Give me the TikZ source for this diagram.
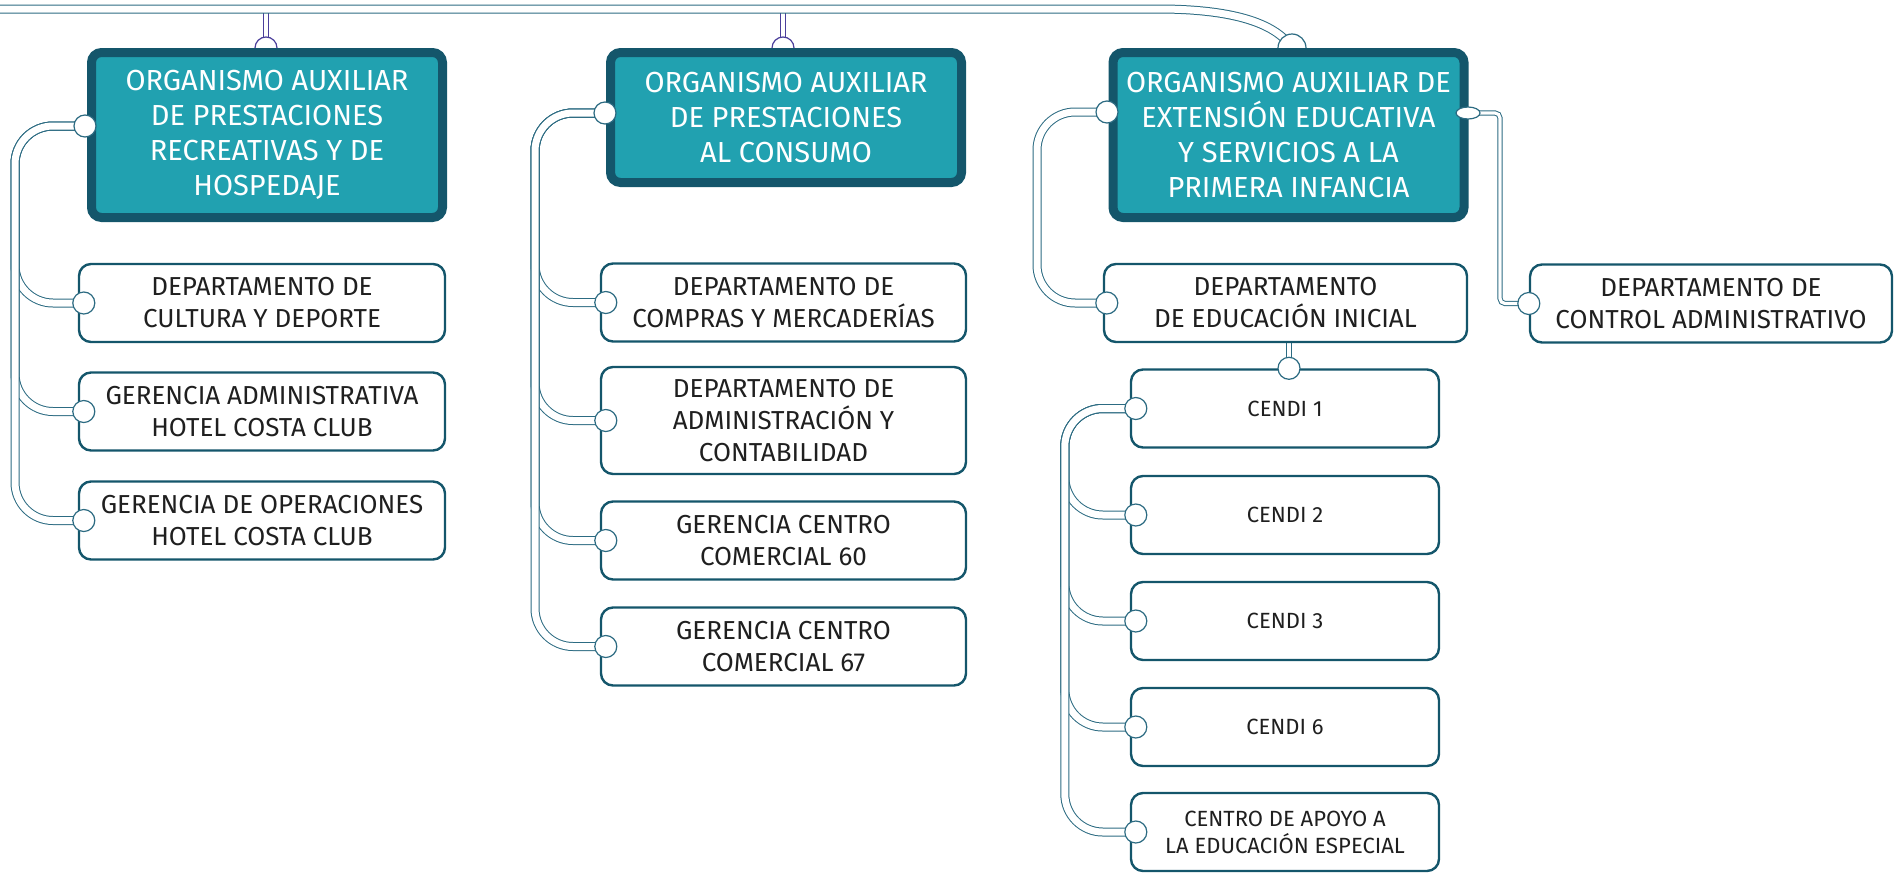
\documentclass[tikz,border=0pt]{standalone}
\usepackage{fontspec}
\setmainfont{Fira Sans}
\usepackage{xcolor}
\usepackage{tikz}
\usetikzlibrary{positioning}
\usetikzlibrary{shapes.geometric}
\usetikzlibrary{backgrounds}

\definecolor{tealfill}{HTML}{21A1B0}
\definecolor{tealdark}{HTML}{14566B}
\definecolor{linkcol}{HTML}{2C6B82}
\definecolor{dropcol}{HTML}{4B3F9B}

\tikzset{
  headbox/.style={rectangle, rounded corners=5pt, fill=tealfill, draw=tealdark, line width=4.5pt,
    text=white, align=center, font=\fontsize{14.5}{17.5}\selectfont, inner sep=0pt, outer sep=0pt,
    minimum width=175.5pt},
  unitbox/.style={rectangle, rounded corners=6pt, fill=white, draw=tealdark, line width=1.2pt,
    align=center, text=black!88, font=\fontsize{13}{16}\selectfont, inner sep=0pt,
    minimum width=183pt, minimum height=39pt},
  cendibox/.style={unitbox, font=\fontsize{11}{13.5}\selectfont, minimum width=154pt},
  knob/.style={circle, fill=white, draw=linkcol, line width=0.6pt, minimum size=11pt, inner sep=0pt},
  flatknob/.style={ellipse, fill=white, draw=linkcol, line width=0.6pt, minimum width=12pt,
    minimum height=6pt, inner sep=0pt},
  link/.style={draw=linkcol, line width=0.5pt, double=white, double distance=3.5pt, rounded corners=19pt},
  thinlink/.style={draw=linkcol, line width=0.5pt, double=white, double distance=1.6pt, rounded corners=2.5pt},
}

\begin{document}
\begin{tikzpicture}[x=0.5pt,y=-0.5pt]
\useasboundingbox (0,0) rectangle (1894,873);

% top line
\coordinate (busL) at (-10,9);
\coordinate (bus1) at (266,9);
\coordinate (bus2) at (783,9);

\node[knob, draw=dropcol] (t1) at (266,48) {};
\node[knob, draw=dropcol] (t2) at (783,48) {};
\node[knob, minimum size=14pt] (t3) at (1292,48) {};

% organismos
\node[headbox, minimum height=82.5pt] (o1) at (267,135)
{ORGANISMO AUXILIAR\\DE PRESTACIONES\\RECREATIVAS Y DE\\HOSPEDAJE};
\node[headbox, minimum height=65pt] (o2) at (786,117.5)
{ORGANISMO AUXILIAR\\DE PRESTACIONES\\AL CONSUMO};
\node[headbox, minimum height=82.5pt] (o3) at (1288.5,135)
{ORGANISMO AUXILIAR DE\\EXTENSIÓN EDUCATIVA\\Y SERVICIOS A LA\\PRIMERA INFANCIA};

% unidades
\node[unitbox] (u1) at (262,303) {DEPARTAMENTO DE\\CULTURA Y DEPORTE};
\node[unitbox] (u2) at (262,411.5) {GERENCIA ADMINISTRATIVA\\HOTEL COSTA CLUB};
\node[unitbox] (u3) at (262,520.5) {GERENCIA DE OPERACIONES\\HOTEL COSTA CLUB};

\node[unitbox, minimum width=182.5pt] (v1) at (783.5,302.5) {DEPARTAMENTO DE\\COMPRAS Y MERCADERÍAS};
\node[unitbox, minimum width=182.5pt, minimum height=53.5pt] (v2) at (783.5,420.5)
{DEPARTAMENTO DE\\ADMINISTRACIÓN Y\\CONTABILIDAD};
\node[unitbox, minimum width=182.5pt] (v3) at (783.5,540.5) {GERENCIA CENTRO\\COMERCIAL 60};
\node[unitbox, minimum width=182.5pt] (v4) at (783.5,646.5) {GERENCIA CENTRO\\COMERCIAL 67};

\node[unitbox, minimum width=181.5pt] (w1) at (1285.5,303) {DEPARTAMENTO\\DE EDUCACIÓN INICIAL};
\node[unitbox, minimum width=181pt] (w2) at (1711,303.5) {DEPARTAMENTO DE\\CONTROL ADMINISTRATIVO};

\node[cendibox] (c1) at (1285,408.5) {CENDI 1};
\node[cendibox] (c2) at (1285,515) {CENDI 2};
\node[cendibox] (c3) at (1285,621) {CENDI 3};
\node[cendibox] (c4) at (1285,727) {CENDI 6};
\node[cendibox] (c5) at (1285,832) {CENTRO DE APOYO A\\LA EDUCACIÓN ESPECIAL};

% knobs
{
\node[knob] (p1) at (85,126) {};
\node[knob] (p2) at (605,113) {};
\node[knob] (p3) at (1107,112) {};
\node[flatknob] (e3) at (1468,113) {};

\node[knob] (ku1) at ([xshift=3pt]u1.west) {};
\node[knob] (ku2) at ([xshift=3pt]u2.west) {};
\node[knob] (ku3) at ([xshift=3pt]u3.west) {};
\node[knob] (kv1) at ([xshift=3pt]v1.west) {};
\node[knob] (kv2) at ([xshift=3pt]v2.west) {};
\node[knob] (kv3) at ([xshift=3pt]v3.west) {};
\node[knob] (kv4) at ([xshift=3pt]v4.west) {};
\node[knob] (kw1) at ([xshift=2pt]w1.west) {};
\node[knob] (kw2) at (w2.west) {};
\node[knob] (kc0) at ([xshift=2pt]c1.north) {};
\node[knob] (kc1) at ([xshift=3pt]c1.west) {};
\node[knob] (kc2) at ([xshift=3pt]c2.west) {};
\node[knob] (kc3) at ([xshift=3pt]c3.west) {};
\node[knob] (kc4) at ([xshift=3pt]c4.west) {};
\node[knob] (kc5) at ([xshift=3pt]c5.west) {};
}

% connectors
\begin{scope}[on background layer]
\draw[thinlink, draw=dropcol] (bus1) -- (t1.center);
\draw[thinlink, draw=dropcol] (bus2) -- (t2.center);
\draw[link] (busL) -- (1120,9) .. controls (1230,9) and (1275,22) .. (t3.center);

\draw[link] (p1.center) -- ++(-70,0) |- (ku1.center);
\draw[link] (p1.center) -- ++(-70,0) |- (ku2.center);
\draw[link] (p1.center) -- ++(-70,0) |- (ku3.center);

\draw[link] (p2.center) -- ++(-70,0) |- (kv1.center);
\draw[link] (p2.center) -- ++(-70,0) |- (kv2.center);
\draw[link] (p2.center) -- ++(-70,0) |- (kv3.center);
\draw[link] (p2.center) -- ++(-70,0) |- (kv4.center);

\draw[link] (p3.center) -- ++(-70,0) |- (kw1.center);
\draw[thinlink] (e3.center) -- ++(32,0) |- (kw2.center);
\draw[thinlink] (w1.south -| kc0) -- (kc0.center);

\draw[link] (kc1.center) -- ++(-71,0) |- (kc2.center);
\draw[link] (kc1.center) -- ++(-71,0) |- (kc3.center);
\draw[link] (kc1.center) -- ++(-71,0) |- (kc4.center);
\draw[link] (kc1.center) -- ++(-71,0) |- (kc5.center);
\end{scope}

\end{tikzpicture}
\end{document}
